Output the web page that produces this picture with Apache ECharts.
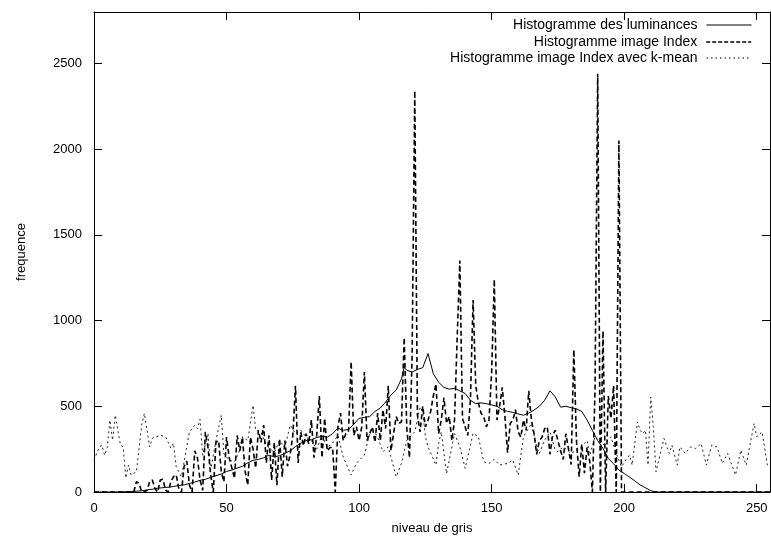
<!DOCTYPE html>
<html><head><meta charset="utf-8">
<script src="https://cdn.jsdelivr.net/npm/echarts@6/dist/echarts.min.js"></script>
<style>html,body{margin:0;padding:0;background:#fff}#c{width:771px;height:540px}</style>
</head><body><div id="c"></div>
<script>
const seriesNames = ['Histogramme des luminances', 'Histogramme image Index', 'Histogramme image Index avec k-mean'];
const xTicks = [0, 50, 100, 150, 200, 250];
const yTicks = [0, 500, 1000, 1500, 2000, 2500];

// Histogramme des luminances (x, fréquence)
const lumX = [0,2,4,6,8,10,12,14,16,18,20,22,24,26,28,30,32,34,36,38,40,42,44,46,48,50,52,54,56,58,60,62,64,66,68,70,72,74,76,78,80,82,84,86,88,90,92,94,96,98,100,102,104,106,108,110,112,114,116,117,118,120,122,124,126,128,130,132,134,136,138,140,142,144,146,148,150,152,154,156,158,160,162,164,166,168,170,172,174,176,178,180,182,184,186,188,190,192,194,196,198,200,202,204,206,208,210,212,220,230,240,255];
const lumY = [0,0,0,0,0,1,2,3,5,7,12,16,22,25,28,32,38,42,50,58,68,74,85,95,105,120,128,140,150,170,185,190,200,215,205,212,225,240,265,285,300,305,318,325,320,340,372,360,365,395,430,435,440,470,490,525,565,595,660,727,710,700,715,725,808,690,640,610,600,605,590,575,535,515,520,515,508,500,480,470,465,455,448,460,478,500,535,590,555,495,500,492,485,470,420,360,300,255,195,165,128,108,87,65,41,25,8,0,0,0,0,0];

// Histogramme image Index : valeurs pour x = 0 .. 255
const idxY = [
0,0,0,0,0,0,0,0,0,0, 0,0,0,0,0,0,60,50,0,0,
10,60,70,20,0,70,75,10,0,60, 90,100,20,0,150,180,40,0,240,200,
70,10,350,260,100,0,290,300,120,60, 320,200,140,80,330,240,320,120,40,320,
250,140,360,290,390,170,330,70,290,40, 310,90,300,150,220,330,620,170,350,270,
340,280,420,200,330,560,200,430,240,260, 260,0,380,460,300,340,350,760,330,380,
300,380,700,300,340,380,290,460,300,480, 370,620,240,340,440,400,410,900,370,200,
800,2340,450,350,500,380,420,470,560,630, 340,420,550,400,440,300,420,900,1350,430,
380,330,540,1120,620,520,460,440,380,420, 700,1240,420,500,610,440,230,400,420,480,
350,320,420,360,590,420,340,220,300,320, 370,380,220,330,360,300,240,190,340,250,
160,830,300,90,280,110,260,180,0,600, 2440,0,940,0,560,430,620,0,2050,0,
0,0,0,0,0,0,0,0,0,0, 0,0,0,0,0,0,0,0,0,0,
0,0,0,0,0,0,0,0,0,0, 0,0,0,0,0,0,0,0,0,0,
0,0,0,0,0,0,0,0,0,0, 0,0,0,0,0,0,0,0,0,0,
0,0,0,0,0,0
];

// Histogramme image Index avec k-mean (x, fréquence)
const kmX = [0,2,3,4,5,6,7,8,10,11,12,13,14,16,18,19,21,22,25,27,29,30,31,33,36,38,39,40,41,43,44,46,48,49,51,53,55,56,58,60,61,63,65,66,68,70,72,74,76,78,80,82,84,86,88,90,92,94,97,99,102,104,105,107,109,111,114,116,118,121,123,124,125,126,129,130,131,133,135,136,138,140,141,143,145,147,149,151,153,156,158,160,162,165,167,168,170,172,174,175,177,180,183,185,186,187,189,192,195,197,199,201,202,203,205,206,207,208,209,210,211,212,215,217,218,220,221,223,225,227,229,231,233,235,237,239,242,244,246,249,250,252,254,255];
const kmY = [186,263,273,215,260,419,302,448,273,263,81,157,99,118,390,459,263,314,331,322,256,285,147,89,351,390,370,424,215,343,128,300,448,222,186,176,244,322,300,506,360,350,273,260,230,300,260,390,340,360,320,300,250,330,260,285,330,205,99,168,215,343,372,320,235,263,89,168,302,351,496,470,322,263,157,283,351,108,263,341,263,138,205,343,322,176,167,190,157,167,186,99,322,400,263,225,302,351,244,235,263,225,254,283,300,215,322,273,322,225,147,196,215,157,409,360,341,360,157,554,380,118,312,225,273,157,263,225,263,254,283,157,273,263,167,225,99,244,157,400,322,351,157,147];

const lumData = lumX.map((x, i) => [x, lumY[i]]);
const idxData = idxY.map((y, i) => [i, y]);
const kmData = kmX.map((x, i) => [x, kmY[i]]);

const FONT = 'Liberation Sans';
const chart = echarts.init(document.getElementById('c'), null, {renderer: 'canvas'});
const lg = (name, top, width, type) => ({
  data: [name], right: 19, top: top, align: 'right', orient: 'vertical', padding: 0,
  itemWidth: 45, itemHeight: 14, itemGap: 0,
  itemStyle: {opacity: 0},
  lineStyle: {width: width, type: type, color: '#000'},
  textStyle: {fontFamily: FONT, fontSize: 14, color: '#000', padding: [0, 4, 0, 0]},
  selectedMode: false
});
chart.setOption({
  animation: false,
  backgroundColor: '#fff',
  textStyle: {fontFamily: FONT},
  grid: {left: 94, right: 1, top: 12, bottom: 48, show: false},
  legend: [lg(seriesNames[0], 18, 1, 'solid'), lg(seriesNames[1], 35, 1.6, [4, 2]), lg(seriesNames[2], 51, 1, [1.5, 3])],
  xAxis: [{
    type: 'value', min: 0, max: 255, interval: 50,
    name: 'niveau de gris', nameLocation: 'middle', nameGap: 30,
    nameTextStyle: {fontFamily: FONT, fontSize: 13, color: '#000'},
    axisLine: {show: true, onZero: false, lineStyle: {color: '#000', width: 1}},
    axisTick: {show: true, inside: true, length: 8, lineStyle: {color: '#000'}},
    axisLabel: {fontFamily: FONT, fontSize: 13, color: '#000', margin: 10, showMaxLabel: false,
      formatter: v => xTicks.includes(v) ? String(v) : ''},
    splitLine: {show: false}
  }, {
    type: 'value', min: 0, max: 255, interval: 50, position: 'top',
    axisLine: {show: true, onZero: false, lineStyle: {color: '#000', width: 1}},
    axisTick: {show: true, inside: true, length: 8, lineStyle: {color: '#000'}},
    axisLabel: {show: false}, splitLine: {show: false}
  }],
  yAxis: [{
    type: 'value', min: 0, max: 2800, interval: 500,
    name: 'frequence', nameLocation: 'middle', nameGap: 66,
    nameTextStyle: {fontFamily: FONT, fontSize: 13, color: '#000'},
    axisLine: {show: true, onZero: false, lineStyle: {color: '#000', width: 1}},
    axisTick: {show: true, inside: true, length: 8, lineStyle: {color: '#000'}},
    axisLabel: {fontFamily: FONT, fontSize: 13, color: '#000', margin: 12, showMaxLabel: false,
      formatter: v => yTicks.includes(v) ? String(v) : ''},
    splitLine: {show: false}
  }, {
    type: 'value', min: 0, max: 2800, interval: 500, position: 'right',
    axisLine: {show: true, onZero: false, lineStyle: {color: '#000', width: 1}},
    axisTick: {show: true, inside: true, length: 8, lineStyle: {color: '#000'}},
    axisLabel: {show: false}, splitLine: {show: false}
  }],
  series: [{
    name: seriesNames[0], type: 'line', data: lumData, symbol: 'none', z: 3,
    lineStyle: {color: '#000', width: 1, type: 'solid'}, itemStyle: {color: '#000'}
  }, {
    name: seriesNames[1], type: 'line', data: idxData, symbol: 'none', z: 2,
    lineStyle: {color: '#000', width: 1.6, type: [5, 3]}, itemStyle: {color: '#000'}
  }, {
    name: seriesNames[2], type: 'line', data: kmData, symbol: 'none', z: 1,
    lineStyle: {color: '#222', width: 1, type: [2, 3]}, itemStyle: {color: '#222'}
  }]
});
</script></body></html>
